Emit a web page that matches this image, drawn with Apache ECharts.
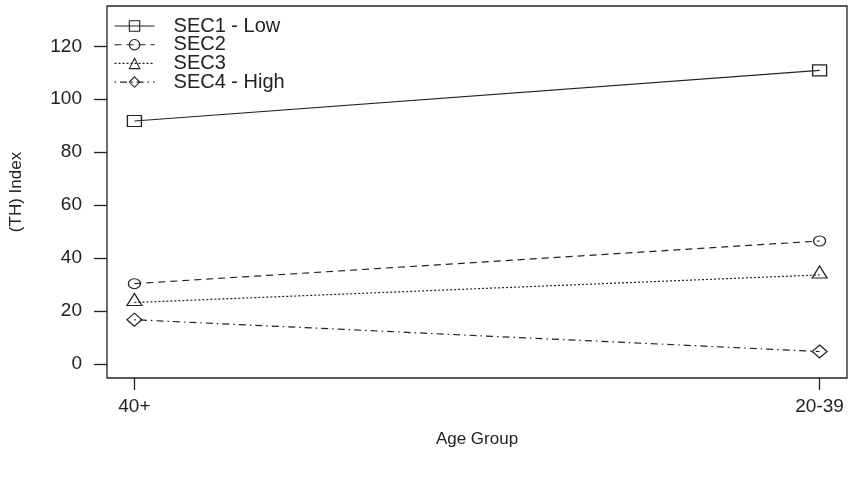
<!DOCTYPE html>
<html>
<head>
<meta charset="utf-8">
<script src="https://cdn.jsdelivr.net/npm/echarts@6/dist/echarts.min.js"></script>
<style>html,body{margin:0;padding:0;background:#fff;}#c{width:854px;height:478px;}</style>
</head>
<body>
<div id="c"></div>
<script>
const categories = ['40+', '20-39'];
const seriesNames = ['SEC1 - Low', 'SEC2', 'SEC3', 'SEC4 - High'];
const sec1 = [91.8, 110.9];
const sec2 = [30.4, 46.5];
const sec3 = [23.3, 33.7];
const sec4 = [16.8, 4.8];
const yTicks = [0, 20, 40, 60, 80, 100, 120];

const values = [sec1, sec2, sec3, sec4];
const symbols = ['rect', 'circle', 'triangle', 'diamond'];
const sizes = [[14, 11], [12, 10], [15, 12], [15, 13]];
const offsets = [[0, 0], [0, 0], [0, -3], [0, 0]];
const dashes = ['solid', [7, 5], [2, 2], [1.5, 4, 7, 4]];

const chart = echarts.init(document.getElementById('c'));
const font = 'Liberation Sans, Arial, Helvetica, sans-serif';

chart.setOption({
  backgroundColor: '#fff',
  animation: false,
  grid: { left: 107, right: 7, top: 6, bottom: 100, show: true, borderColor: '#222', borderWidth: 1.3, backgroundColor: 'transparent' },
  legend: {
    orient: 'vertical',
    left: 109, top: 11,
    itemWidth: 40, itemHeight: 13, itemGap: -1.3,
    lineStyle: { width: 1.1 },
    itemStyle: { borderWidth: 1.1 },
    textStyle: { fontFamily: font, fontSize: 20, color: '#222', lineHeight: 18, padding: [0, 0, 0, 14] },
    data: seriesNames
  },
  xAxis: {
    type: 'value', min: 0.96, max: 2.04,
    name: 'Age Group', nameLocation: 'middle', nameGap: 53,
    nameTextStyle: { fontFamily: font, fontSize: 17, color: '#222' },
    axisLine: { show: false, onZero: false },
    axisTick: { show: true, inside: false, length: 12, customValues: [1, 2], lineStyle: { color: '#222', width: 1.3 } },
    axisLabel: { customValues: [1, 2], margin: 19, fontFamily: font, fontSize: 19, color: '#222',
      formatter: v => categories[Math.round(v) - 1] },
    splitLine: { show: false }
  },
  yAxis: {
    type: 'value', min: -5.2, max: 135.2,
    name: '(TH) Index', nameLocation: 'middle', nameGap: 82,
    nameTextStyle: { fontFamily: font, fontSize: 17, color: '#222' },
    axisLine: { show: false, onZero: false },
    axisTick: { show: true, inside: false, length: 13, customValues: yTicks, lineStyle: { color: '#222', width: 1.3 } },
    axisLabel: { customValues: yTicks, margin: 25, fontFamily: font, fontSize: 19, color: '#222' },
    splitLine: { show: false }
  },
  series: seriesNames.map((n, i) => ({
    name: n,
    type: 'line',
    data: values[i].map((v, j) => [j + 1, v]),
    symbol: symbols[i],
    symbolSize: sizes[i],
    symbolOffset: offsets[i],
    showAllSymbol: true,
    lineStyle: { color: '#222', width: 1.2, type: dashes[i] },
    itemStyle: { color: 'none', borderColor: '#222', borderWidth: 1.2 },
    emphasis: { disabled: true }
  }))
});
</script>
</body>
</html>
